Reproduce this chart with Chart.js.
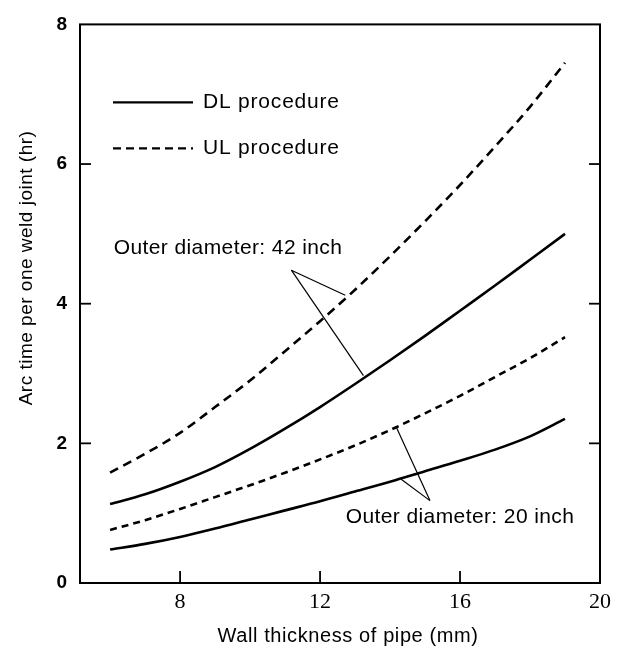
<!DOCTYPE html>
<html>
<head>
<meta charset="utf-8">
<script src="https://cdn.jsdelivr.net/npm/chart.js@4.4.1/dist/chart.umd.min.js"></script>
<style>
	html, body { margin: 0; padding: 0; background: #fff; }
	#wrap { width: 617px; height: 651px; }
</style>
</head>
<body>
<div id="wrap"><canvas id="chart" width="617" height="651"></canvas></div>
<script>
// wall thickness (mm)
var thickness = [6, 7, 8, 9, 10, 11, 12, 13, 14, 15, 16, 17, 18, 19];
// arc time (hr)
var dl42 = [1.13, 1.27, 1.45, 1.66, 1.92, 2.21, 2.52, 2.85, 3.19, 3.54, 3.9, 4.26, 4.63, 5.0];
var ul42 = [1.58, 1.85, 2.15, 2.52, 2.9, 3.32, 3.75, 4.2, 4.68, 5.18, 5.7, 6.25, 6.82, 7.45];
var dl20 = [0.48, 0.56, 0.66, 0.78, 0.91, 1.04, 1.17, 1.31, 1.45, 1.6, 1.75, 1.91, 2.1, 2.35];
var ul20 = [0.76, 0.9, 1.06, 1.23, 1.4, 1.58, 1.77, 1.97, 2.19, 2.43, 2.68, 2.95, 3.22, 3.52];
var xTicks = [8, 12, 16, 20];
var yTicks = [0, 2, 4, 6, 8];

var SANS = '"Liberation Sans", Arial, sans-serif';
var SERIF = '"Liberation Serif", "Times New Roman", serif';

function pts(ys) {
	return thickness.map(function (x, i) { return {x: x, y: ys[i]}; });
}

function series(label, ys, dash) {
	return {
		label: label,
		data: pts(ys),
		borderColor: '#000',
		borderWidth: 2.6,
		borderDash: dash,
		pointRadius: 0,
		fill: false,
		tension: 0.4,
		cubicInterpolationMode: 'monotone'
	};
}

function txt(ctx, s, x, y, font, align, spacing) {
	ctx.save();
	ctx.font = font;
	ctx.fillStyle = '#000';
	ctx.textBaseline = 'middle';
	ctx.letterSpacing = (spacing || 0) + 'px';
	var w = ctx.measureText(s).width;
	var sx = align === 'center' ? x - w / 2 : x;
	ctx.textAlign = 'left';
	ctx.fillText(s, sx, y);
	ctx.restore();
}

function seg(ctx, x1, y1, x2, y2, w, dash) {
	ctx.save();
	ctx.strokeStyle = '#000';
	ctx.lineWidth = w;
	ctx.setLineDash(dash || []);
	ctx.beginPath();
	ctx.moveTo(x1, y1);
	ctx.lineTo(x2, y2);
	ctx.stroke();
	ctx.restore();
}

var decor = {
	id: 'decor',
	afterDraw: function (chart) {
		var ctx = chart.ctx, a = chart.chartArea;
		var xs = chart.scales.x, ys = chart.scales.y;
		var f = '21px ' + SANS;

		// frame
		ctx.save();
		ctx.strokeStyle = '#000';
		ctx.lineWidth = 2;
		ctx.strokeRect(a.left, a.top, a.right - a.left, a.bottom - a.top);
		ctx.restore();

		// inward ticks
		[2, 4, 6].forEach(function (v) {
			var py = ys.getPixelForValue(v);
			seg(ctx, a.left, py, a.left + 11, py, 1.8);
			seg(ctx, a.right, py, a.right - 11, py, 1.8);
		});
		[8, 12, 16].forEach(function (v) {
			var px = xs.getPixelForValue(v);
			seg(ctx, px, a.bottom, px, a.bottom - 12, 1.8);
		});

		// legend
		var lx = a.left + 33;
		seg(ctx, lx, a.top + 78, lx + 80, a.top + 78, 2.4);
		txt(ctx, 'DL procedure', lx + 90, a.top + 78, f, 'left', 0.8);
		seg(ctx, lx, a.top + 124, lx + 80, a.top + 124, 2.4, [8, 5]);
		txt(ctx, 'UL procedure', lx + 90, a.top + 124, f, 'left', 0.8);

		// annotations
		function P(x, y) { return [xs.getPixelForValue(x), ys.getPixelForValue(y)]; }
		var t42 = P(9.37, 4.8), ap42 = P(11.18, 4.48), e1 = P(12.72, 4.12), e2 = P(13.24, 2.97);
		txt(ctx, 'Outer diameter: 42 inch', t42[0], t42[1], f, 'center', 0.4);
		seg(ctx, ap42[0], ap42[1], e1[0], e1[1], 1.2);
		seg(ctx, ap42[0], ap42[1], e2[0], e2[1], 1.2);

		var t20 = P(16.0, 0.944), ap20 = P(15.14, 1.18), f1 = P(14.17, 2.24), f2 = P(14.31, 1.49);
		txt(ctx, 'Outer diameter: 20 inch', t20[0], t20[1], f, 'center', 0.4);
		seg(ctx, ap20[0], ap20[1], f1[0], f1[1], 1.2);
		seg(ctx, ap20[0], ap20[1], f2[0], f2[1], 1.2);

		// axis titles
		txt(ctx, 'Wall thickness of pipe (mm)', (a.left + a.right) / 2 + 8, 636, '20px ' + SANS, 'center', 0.6);
		ctx.save();
		ctx.translate(27, 268);
		ctx.rotate(-Math.PI / 2);
		txt(ctx, 'Arc time per one weld joint (hr)', 0, 0, '19px ' + SANS, 'center', 0.5);
		ctx.restore();
	}
};

new Chart(document.getElementById('chart'), {
	type: 'line',
	data: {
		datasets: [
			series('DL 42 inch', dl42, []),
			series('UL 42 inch', ul42, [9, 6]),
			series('DL 20 inch', dl20, []),
			series('UL 20 inch', ul20, [7, 5])
		]
	},
	options: {
		responsive: false,
		animation: false,
		layout: { padding: { left: 0, right: 8, top: 21, bottom: 0 } },
		plugins: {
			legend: { display: false },
			tooltip: { enabled: false }
		},
		scales: {
			x: {
				type: 'linear',
				min: 5.14,
				max: 20,
				grid: { display: false, drawTicks: false },
				border: { display: false },
				afterBuildTicks: function (s) { s.ticks = xTicks.map(function (v) { return {value: v}; }); },
				afterFit: function (s) { s.height = 68; },
				ticks: {
					color: '#000',
					padding: 6,
					maxRotation: 0,
					font: { family: SERIF, size: 22 }
				}
			},
			y: {
				min: 0,
				max: 8,
				grid: { display: false, drawTicks: false },
				border: { display: false },
				afterBuildTicks: function (s) { s.ticks = yTicks.map(function (v) { return {value: v}; }); },
				afterFit: function (s) { s.width = 80; },
				ticks: {
					color: '#000',
					padding: 13,
					font: { family: SANS, size: 19, weight: 'bold' }
				}
			}
		}
	},
	plugins: [decor]
});
</script>
</body>
</html>
